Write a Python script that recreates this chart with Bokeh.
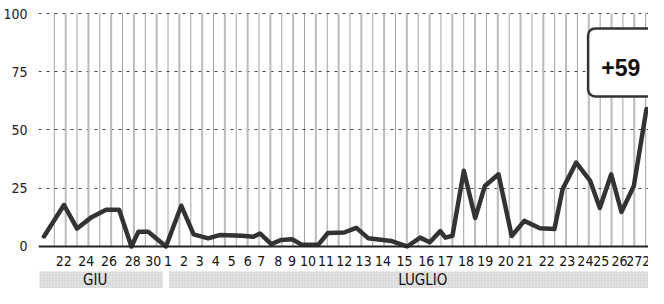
from bokeh.plotting import figure
from bokeh.models import FixedTicker, ColumnDataSource, Span, Range1d
from bokeh.core.properties import value
from bokeh.embed import file_html
from bokeh.resources import INLINE

# x unit = one step of the chart's vertical grid
line_x = [-0.91, 0.85, 2.00, 3.28, 4.56, 5.70, 6.78, 7.40, 8.26, 9.82,
          11.16, 12.25, 13.53, 14.52, 16.52, 17.51, 18.08, 19.08, 19.93, 20.92,
          21.78, 23.20, 24.06, 25.48, 26.56, 27.62, 29.61, 31.03, 32.17, 33.02,
          33.94, 34.39, 35.01, 36.01, 37.01, 37.86, 39.06, 40.22, 41.33, 42.70,
          43.98, 44.70, 45.89, 47.11, 47.97, 48.97, 49.87, 50.96, 52.07]
line_y = [4.3, 17.8, 7.7, 12.6, 15.8, 15.8, 0, 6.3, 6.3, 0,
          17.5, 5.2, 3.5, 4.9, 4.6, 4.2, 5.6, 1.0, 2.8, 3.1,
          0.7, 0.7, 5.8, 6.0, 8.0, 3.5, 2.4, 0, 3.8, 1.8,
          6.6, 3.8, 4.6, 32.5, 12.2, 26.0, 31.0, 4.5, 11.0, 7.8,
          7.5, 24.7, 36.0, 28.3, 16.5, 31.0, 14.8, 26.0, 59.0]

day_labels = ["22", "24", "26", "28", "30", "1", "2", "3", "4", "5", "6", "7",
              "8", "9", "10", "11", "12", "13", "14", "15", "16", "17", "18",
              "19", "20", "21", "22", "23", "24", "25", "26", "27", "28"]
day_label_x = [0.83, 2.8, 4.8, 6.9, 8.7, 10.0, 11.4, 12.8, 14.2, 15.6, 17.0,
               18.2, 19.7, 20.9, 22.3, 23.9, 25.5, 27.2, 28.9, 30.8, 32.7,
               34.4, 36.2, 37.9, 39.7, 41.4, 43.3, 45.1, 46.7, 48.1, 49.7,
               51.0, 52.4]

months = ["GIU", "LUGLIO"]
month_start = [-1.31, 10.1]
month_end = [9.55, 54.0]
month_label_x = [3.6, 32.4]

y_ticks = [0, 25, 50, 75, 100]
grid_steps = list(range(53))
last_change = "+59"

FONT = "Liberation Sans Narrow, DejaVu Sans Condensed, Liberation Sans, sans-serif"
INK = "#222222"

p = figure(width=648, height=288, output_backend="svg", toolbar_location=None,
           x_range=Range1d(-1.39, 52.25), y_range=Range1d(-18.03, 105.58),
           min_border_left=36, min_border_right=0, min_border_top=0,
           min_border_bottom=0)
p.outline_line_color = None
p.background_fill_color = "white"
p.xaxis.visible = False
p.xgrid.visible = False

# horizontal dashed grid
p.ygrid.ticker = FixedTicker(ticks=y_ticks[1:])
p.ygrid.grid_line_color = "#444444"
p.ygrid.grid_line_dash = "3 5"
p.ygrid.grid_line_width = 1

# y axis
p.yaxis.ticker = FixedTicker(ticks=y_ticks)
p.yaxis.axis_line_color = None
p.yaxis.major_tick_line_color = None
p.yaxis.minor_tick_line_color = None
p.yaxis.major_label_standoff = 5
p.yaxis.major_label_text_font = FONT
p.yaxis.major_label_text_font_size = "14px"
p.yaxis.major_label_text_color = INK

# vertical grid: alternating dark dotted / grey solid
dark = [g for g in grid_steps if g % 2 == 0]
grey = [g for g in grid_steps if g % 2 == 1]
p.segment(x0=grey, x1=grey, y0=[y_ticks[0]] * len(grey), y1=[y_ticks[-1]] * len(grey),
          line_color="#bababa", line_width=2)
p.segment(x0=dark, x1=dark, y0=[y_ticks[0]] * len(dark), y1=[y_ticks[-1]] * len(dark),
          line_color="#444444", line_width=1, line_dash="1 1")

# zero line
p.add_layout(Span(location=0, dimension="width", line_color=INK, line_width=2))

# month bands
p.quad(left=month_start, right=month_end, top=[-10.73] * 2, bottom=[-25] * 2,
       fill_color="#e3e3e3", line_color=None,
       hatch_pattern="dot", hatch_color="#c8c8c8", hatch_scale=3, hatch_weight=1)
p.text(x=month_label_x, y=[-14.4] * 2, text=months, text_font=value(FONT),
       text_font_size="15px", text_color="#111111", text_align="center",
       text_baseline="middle")

# day labels
p.text(x=day_label_x, y=[-6.44] * len(day_labels), text=day_labels,
       text_font=value(FONT), text_font_size="14px", text_color="#111111",
       text_align="center", text_baseline="middle")

# series line
src = ColumnDataSource(dict(x=line_x, y=line_y))
p.line("x", "y", source=src, line_color="#333333", line_width=4.5,
       line_join="round", line_cap="round")

# callout box
p.quad(left=[46.94], right=[54.0], top=[93.6], bottom=[64.4], fill_color="white",
       line_color="#333333", line_width=2.5, border_radius=7)
p.text(x=[48.1], y=[76.8], text=[last_change], text_font=value("Liberation Sans"),
       text_font_style="bold", text_font_size="23px", text_color="#111111",
       text_align="left", text_baseline="middle")

open("out.html", "w").write(file_html(p, INLINE))
